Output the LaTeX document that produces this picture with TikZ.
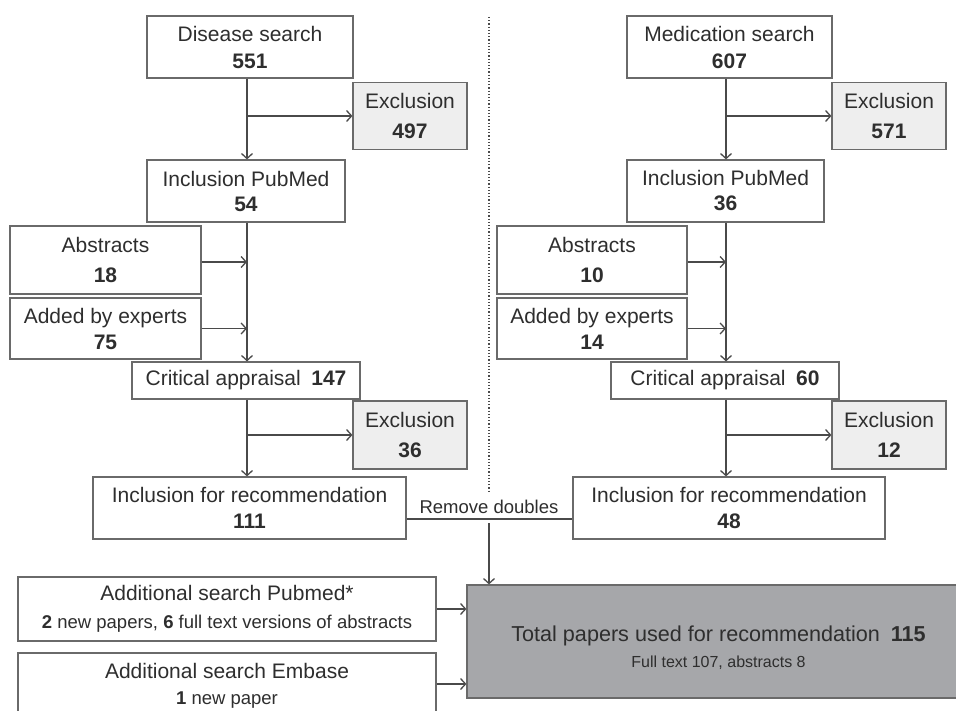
\documentclass[tikz,border=0pt]{standalone}
\usepackage{fontspec}
\setmainfont{Liberation Sans}
\usetikzlibrary{arrows.meta,calc}
\definecolor{ink}{HTML}{2E2E2E}
\definecolor{edgec}{HTML}{6A6A6A}
\definecolor{exclc}{HTML}{EEEEEE}
\definecolor{totalc}{HTML}{A6A7AA}
\definecolor{wire}{HTML}{4A4A4A}
\begin{document}
\begin{tikzpicture}[x=1pt,y=-1pt,
  box/.style={draw=edgec, line width=1.2pt, fill=white, text=ink, align=center, inner sep=0pt},
  excl/.style={box, fill=exclc, minimum width=114pt, minimum height=67pt, font=\fontsize{21}{30}\selectfont},
  fb/.style={font=\fontsize{21}{#1}\selectfont},
  wireline/.style={draw=wire, line width=1.3pt},
  arr/.style={wireline, -{Straight Barb[length=5pt,width=11pt,line width=1.3pt]}}]
\useasboundingbox (0,0) rectangle (956,711);
\fill[white] (0,0) rectangle (956,711);

% spines
\coordinate (sL) at (247,0);
\coordinate (sR) at (726,0);

% left column
\node[box, fb=27, minimum width=206pt, minimum height=62pt] (ds) at (250,47) {Disease search\\\textbf{551}};
\node[excl] (ex1) at (410,116) {Exclusion\\\textbf{497}};
\node[box, fb=25, minimum width=198pt, minimum height=62pt] (ip) at (246,191) {Inclusion PubMed\\\textbf{54}};
\node[box, fb=30, minimum width=191pt, minimum height=68pt] (ab) at (105.5,260) {Abstracts\\\textbf{18}};
\node[box, fb=26, minimum width=191pt, minimum height=61pt] (ae) at (105.5,328.5) {Added by experts\\\textbf{75}};
\node[box, fb=26, minimum width=228pt, minimum height=37pt] (ca) at (246,380.5) {Critical appraisal\enspace\textbf{147}};
\node[excl, minimum height=68pt] (ex2) at (410,435) {Exclusion\\\textbf{36}};
\node[box, fb=26, minimum width=313pt, minimum height=62pt] (ir) at (249.5,508) {Inclusion for recommendation\\\textbf{111}};

% right column
\node[box, fb=27, minimum width=205pt, minimum height=62pt] (ms) at (729.5,47) {Medication search\\\textbf{607}};
\node[excl] (ex3) at (889,116) {Exclusion\\\textbf{571}};
\node[box, fb=25, minimum width=197pt, minimum height=62pt] (ip2) at (725.5,191) {Inclusion PubMed\\\textbf{36}};
\node[box, fb=30, minimum width=190pt, minimum height=68pt] (ab2) at (592,260) {Abstracts\\\textbf{10}};
\node[box, fb=26, minimum width=190pt, minimum height=61pt] (ae2) at (592,328.5) {Added by experts\\\textbf{14}};
\node[box, fb=26, minimum width=228pt, minimum height=37pt] (ca2) at (725,380.5) {Critical appraisal\enspace\textbf{60}};
\node[excl, minimum height=68pt] (ex4) at (889,435) {Exclusion\\\textbf{12}};
\node[box, fb=26, minimum width=312pt, minimum height=62pt] (ir2) at (729,508) {Inclusion for recommendation\\\textbf{48}};

% bottom
\node[box, fb=28, minimum width=418pt, minimum height=64pt] (pm) at (227,609)
  {Additional search Pubmed*\\{\fontsize{18.5}{22}\selectfont\textbf{2} new papers, \textbf{6} full text versions of abstracts}};
\node[box, fb=25.5, minimum width=418pt, minimum height=66pt] (em) at (227,686)
  {Additional search Embase\\{\fontsize{18.5}{22}\selectfont\textbf{1} new paper}};
\node[box, fill=totalc, minimum width=503pt, minimum height=113pt] (tot) at (718.5,641.5) {};
\node[text=ink, align=center, inner sep=0pt, font=\fontsize{21.6}{26}\selectfont] (totl) at ($(tot.center)+(0,6.5)$)
  {Total papers used for recommendation\enspace\textbf{115}\\{\fontsize{16}{20}\selectfont Full text 107, abstracts 8}};

% separator
\coordinate (d1) at (489,17);
\coordinate (d2) at (489,492);
\draw[wire, line width=1.2pt, dotted] (d1) -- (d2);

% left connectors
\draw[arr] (ds.south -| sL) -- (ip.north -| sL);
\draw[arr] (ex1.west -| sL) -- (ex1.west);
\draw[wireline] (ip.south -| sL) -- (ca.north -| sL);
\draw[arr] (ae.south -| sL) -- (ca.north -| sL);
\draw[arr] ([yshift=-2pt]ab.east) -- ([yshift=-2pt]ab.east -| sL);
\draw[arr] (ae.east) -- (ae.east -| sL);
\draw[arr] (ca.south -| sL) -- (ir.north -| sL);
\draw[arr] (ex2.west -| sL) -- (ex2.west);

% right connectors
\draw[arr] (ms.south -| sR) -- (ip2.north -| sR);
\draw[arr] (ex3.west -| sR) -- (ex3.west);
\draw[wireline] (ip2.south -| sR) -- (ca2.north -| sR);
\draw[arr] (ae2.south -| sR) -- (ca2.north -| sR);
\draw[arr] ([yshift=-2pt]ab2.east) -- ([yshift=-2pt]ab2.east -| sR);
\draw[arr] (ae2.east) -- (ae2.east -| sR);
\draw[arr] (ca2.south -| sR) -- (ir2.north -| sR);
\draw[arr] (ex4.west -| sR) -- (ex4.west);

% merge
\coordinate (rd) at (489,519);
\draw[wireline] (ir.east |- rd) -- (ir2.west |- rd);
\node[text=ink, inner sep=0pt, font=\fontsize{18.5}{22}\selectfont] (rdl) at (489,507) {Remove doubles};
\draw[arr] ($(rd)+(0,4)$) -- (tot.north -| rd);
\draw[arr] (pm.east) -- (pm.east -| tot.west);
\draw[arr] ([yshift=2pt]em.east) -- ([yshift=2pt]em.east -| tot.west);
\end{tikzpicture}
\end{document}
